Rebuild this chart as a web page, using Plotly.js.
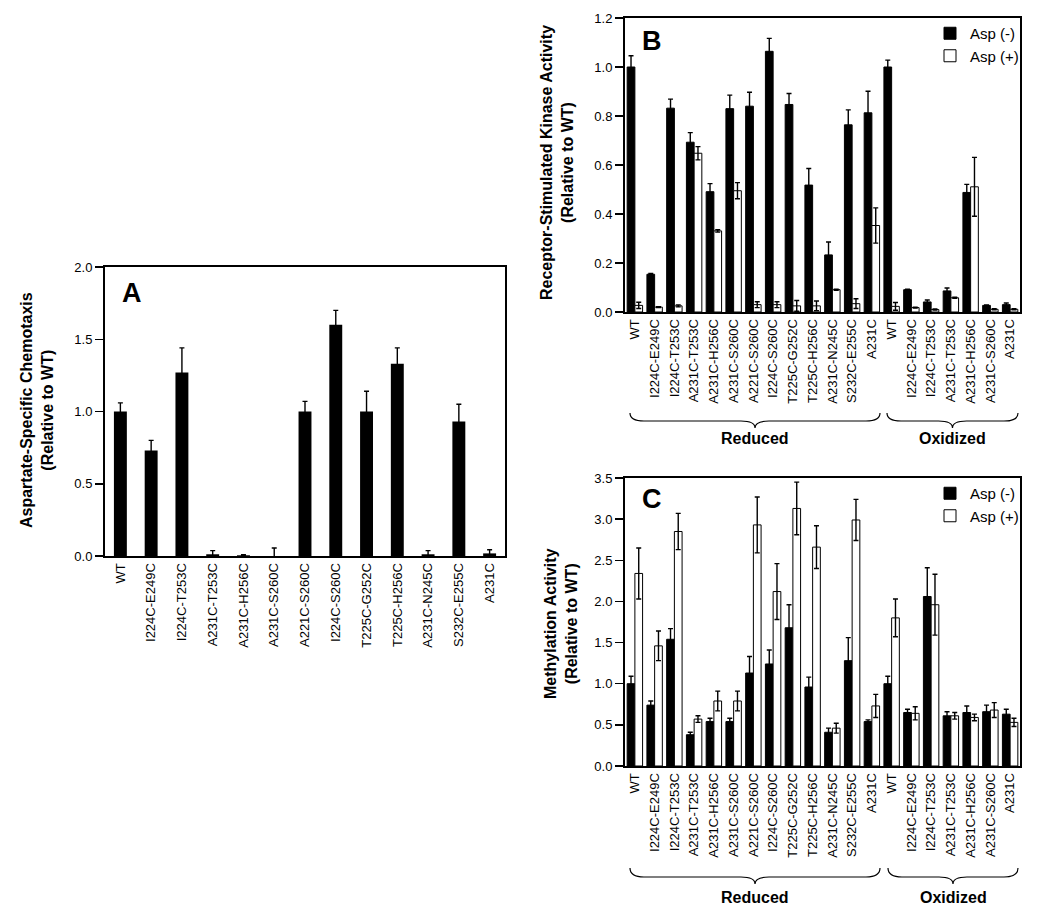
<!DOCTYPE html>
<html>
<head>
<meta charset="utf-8">
<script src="https://cdn.plot.ly/plotly-3.0.1.min.js"></script>
<style>html,body{margin:0;padding:0;background:#fff;}#chart{width:1050px;height:909px;}</style>
</head>
<body>
<div id="chart"></div>
<script>
// ---------- Panel A data ----------
const catA = ["WT","I224C-E249C","I224C-T253C","A231C-T253C","A231C-H256C","A231C-S260C","A221C-S260C","I224C-S260C","T225C-G252C","T225C-H256C","A231C-N245C","S232C-E255C","A231C"];
const chemoA    = [1.00, 0.73, 1.27, 0.012, 0.005, 0.0, 1.00, 1.60, 1.00, 1.33, 0.012, 0.93, 0.018];
const chemoAErr = [0.06, 0.07, 0.17, 0.025, 0.004, 0.055, 0.07, 0.10, 0.14, 0.11, 0.025, 0.12, 0.025];

// ---------- Panels B and C categories ----------
const catReduced  = ["WT","I224C-E249C","I224C-T253C","A231C-T253C","A231C-H256C","A231C-S260C","A221C-S260C","I224C-S260C","T225C-G252C","T225C-H256C","A231C-N245C","S232C-E255C","A231C"];
const catOxidized = ["WT","I224C-E249C","I224C-T253C","A231C-T253C","A231C-H256C","A231C-S260C","A231C"];
const catBC = catReduced.concat(catOxidized);
const groupNames = ["Reduced","Oxidized"];
const seriesNames = ["Asp (-)","Asp (+)"];

// ---------- Panel B: kinase activity ----------
const kinaseMinus    = [1.00, 0.154, 0.832, 0.693, 0.491, 0.830, 0.840, 1.064, 0.847, 0.518, 0.233, 0.764, 0.813, 1.00, 0.091, 0.041, 0.086, 0.488, 0.027, 0.030];
const kinaseMinusErr = [0.046, 0.003, 0.037, 0.039, 0.033, 0.055, 0.057, 0.053, 0.045, 0.068, 0.053, 0.061, 0.088, 0.028, 0.002, 0.008, 0.012, 0.033, 0.002, 0.007];
const kinasePlus     = [0.027, 0.020, 0.025, 0.648, 0.331, 0.495, 0.030, 0.030, 0.025, 0.025, 0.091, 0.034, 0.353, 0.023, 0.018, 0.010, 0.058, 0.511, 0.011, 0.011];
const kinasePlusErr  = [0.013, 0.002, 0.004, 0.027, 0.005, 0.033, 0.012, 0.012, 0.022, 0.020, 0.002, 0.020, 0.072, 0.016, 0.002, 0.002, 0.002, 0.120, 0.002, 0.002];

// ---------- Panel C: methylation activity ----------
const methMinus    = [1.00, 0.74, 1.54, 0.38, 0.54, 0.54, 1.13, 1.24, 1.68, 0.96, 0.41, 1.28, 0.54, 1.00, 0.65, 2.06, 0.61, 0.65, 0.66, 0.63];
const methMinusErr = [0.09, 0.05, 0.13, 0.03, 0.04, 0.04, 0.20, 0.17, 0.28, 0.12, 0.05, 0.28, 0.02, 0.09, 0.04, 0.35, 0.05, 0.08, 0.08, 0.06];
const methPlus     = [2.34, 1.46, 2.85, 0.57, 0.79, 0.79, 2.93, 2.12, 3.13, 2.66, 0.46, 2.99, 0.73, 1.80, 0.64, 1.96, 0.61, 0.59, 0.68, 0.53];
const methPlusErr  = [0.31, 0.18, 0.22, 0.04, 0.12, 0.12, 0.34, 0.34, 0.32, 0.26, 0.06, 0.25, 0.14, 0.23, 0.08, 0.37, 0.04, 0.04, 0.09, 0.05];

// ---------- geometry helpers (pixel -> paper) ----------
const W = 1050, H = 909;
const px = v => v / W;
const py = v => 1 - v / H;
const FONT = "Liberation Sans, Arial, Helvetica, sans-serif";

const idxA = catA.map((_, i) => i);
const idxBC = catBC.map((_, i) => i);

function errBar(arr) {
  return {type: "data", array: arr, visible: true, color: "#000", thickness: 1.4, width: 2.5};
}

const traces = [
  {type: "bar", x: idxA, y: chemoA, width: 0.42, xaxis: "x", yaxis: "y",
   marker: {color: "#000", line: {color: "#000", width: 0}}, error_y: errBar(chemoAErr), showlegend: false, name: "Chemotaxis"},
  {type: "bar", x: idxBC, y: kinaseMinus, xaxis: "x2", yaxis: "y2", name: seriesNames[0], legend: "legend",
   marker: {color: "#000", line: {color: "#000", width: 1}}, error_y: errBar(kinaseMinusErr)},
  {type: "bar", x: idxBC, y: kinasePlus, xaxis: "x2", yaxis: "y2", name: seriesNames[1], legend: "legend",
   marker: {color: "#fff", line: {color: "#000", width: 1}}, error_y: errBar(kinasePlusErr)},
  {type: "bar", x: idxBC, y: methMinus, xaxis: "x3", yaxis: "y3", name: seriesNames[0], legend: "legend2",
   marker: {color: "#000", line: {color: "#000", width: 1}}, error_y: errBar(methMinusErr)},
  {type: "bar", x: idxBC, y: methPlus, xaxis: "x3", yaxis: "y3", name: seriesNames[1], legend: "legend2",
   marker: {color: "#fff", line: {color: "#000", width: 1}}, error_y: errBar(methPlusErr)}
];

function xAxis(domain, anchor, n, cats) {
  return {domain: domain, anchor: anchor, range: [-0.5, n - 0.5],
    tickvals: cats.map((_, i) => i), ticktext: cats, tickangle: -90,
    tickfont: {family: FONT, size: 13, color: "#000"}, ticks: "",
    showline: true, mirror: true, linecolor: "#000", linewidth: 2,
    showgrid: false, zeroline: false, fixedrange: true};
}
function yAxis(domain, anchor, max, dtick) {
  return {domain: domain, anchor: anchor, range: [0, max], dtick: dtick, tick0: 0, tickformat: ".1f",
    tickfont: {family: FONT, size: 13, color: "#000"}, ticks: "outside", ticklen: 8, tickwidth: 1.5, tickcolor: "#000",
    showline: true, mirror: true, linecolor: "#000", linewidth: 2,
    showgrid: false, zeroline: false, fixedrange: true};
}

function brace(x0, x1, yTop, yMid, yTip) {
  const xm = (x0 + x1) / 2, r = 14;
  const P = (x, y) => px(x).toFixed(5) + "," + py(y).toFixed(5);
  const d = "M" + P(x0, yTop) + " Q" + P(x0, yMid) + " " + P(x0 + r, yMid) +
            " L" + P(xm - r, yMid) + " Q" + P(xm, yMid) + " " + P(xm, yTip) +
            " Q" + P(xm, yMid) + " " + P(xm + r, yMid) +
            " L" + P(x1 - r, yMid) + " Q" + P(x1, yMid) + " " + P(x1, yTop);
  return {type: "path", xref: "paper", yref: "paper", path: d, line: {color: "#000", width: 1.2}};
}

function ann(text, x, y, size, extra) {
  return Object.assign({text: text, x: px(x), y: py(y), xref: "paper", yref: "paper", showarrow: false,
    xanchor: "center", yanchor: "middle", font: {family: FONT, size: size, color: "#000"}}, extra || {});
}

const layout = {
  width: W, height: H, margin: {l: 0, r: 0, t: 0, b: 0},
  paper_bgcolor: "#fff", plot_bgcolor: "#fff",
  barmode: "group", bargap: 0.22, bargroupgap: 0,
  font: {family: FONT, color: "#000"},
  xaxis:  xAxis([px(105), px(505)], "y", catA.length, catA),
  yaxis:  yAxis([py(556), py(267)], "x", 2.0, 0.5),
  xaxis2: xAxis([px(625), px(1020)], "y2", catBC.length, catBC),
  yaxis2: yAxis([py(312), py(18)], "x2", 1.2, 0.2),
  xaxis3: xAxis([px(625), px(1020)], "y3", catBC.length, catBC),
  yaxis3: yAxis([py(766), py(478)], "x3", 3.5, 0.5),
  legend:  {x: px(930), y: py(17), xanchor: "left", yanchor: "top", bgcolor: "rgba(0,0,0,0)",
            font: {family: FONT, size: 15, color: "#000"}, tracegroupgap: 0, itemwidth: 30},
  legend2: {x: px(930), y: py(477), xanchor: "left", yanchor: "top", bgcolor: "rgba(0,0,0,0)",
            font: {family: FONT, size: 15, color: "#000"}, tracegroupgap: 0, itemwidth: 30},
  shapes: [
    brace(630, 880, 413, 421, 428),
    brace(887, 1018, 413, 421, 428),
    brace(630, 880, 868, 877, 884),
    brace(888, 1018, 868, 877, 884)
  ],
  annotations: [
    ann("<b>A</b>", 132, 293, 27),
    ann("<b>B</b>", 652, 41, 27),
    ann("<b>C</b>", 652, 499, 27),
    ann("<b>Aspartate-Specific Chemotaxis</b><br><b>(Relative to WT)</b>", 37, 410, 16, {textangle: -90}),
    ann("<b>Receptor-Stimulated Kinase Activity</b><br><b>(Relative to WT)</b>", 557, 163, 16, {textangle: -90}),
    ann("<b>Methylation Activity</b><br><b>(Relative to WT)</b>", 561, 624, 16, {textangle: -90}),
    ann("<b>" + groupNames[0] + "</b>", 755, 438, 16),
    ann("<b>" + groupNames[1] + "</b>", 952, 438, 16),
    ann("<b>" + groupNames[0] + "</b>", 755, 897, 16),
    ann("<b>" + groupNames[1] + "</b>", 953, 897, 16)
  ]
};

Plotly.newPlot("chart", traces, layout, {displayModeBar: false, staticPlot: true});
</script>
</body>
</html>
